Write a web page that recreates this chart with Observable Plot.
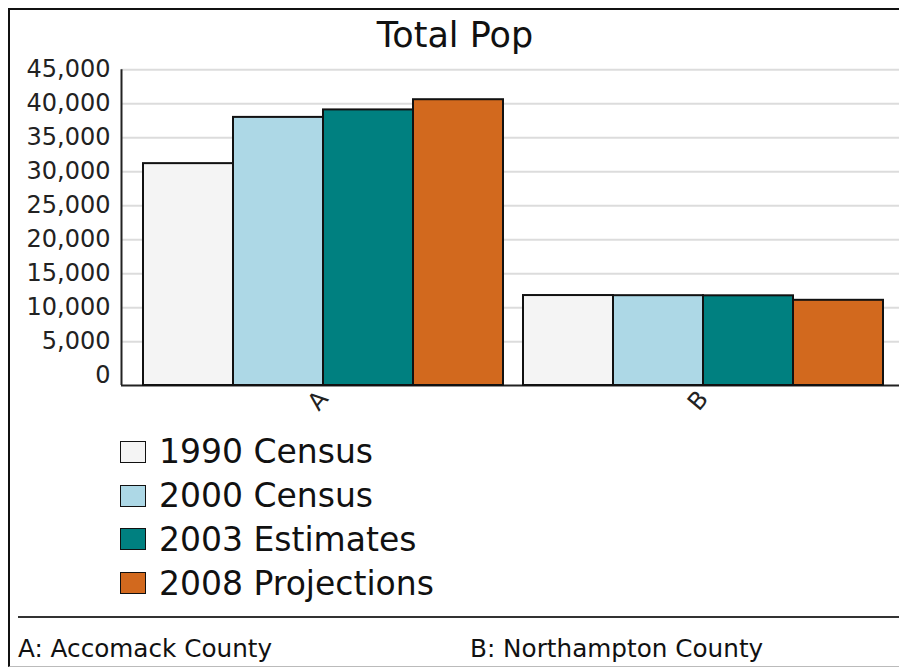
<!DOCTYPE html>
<html>
<head>
<meta charset="utf-8">
<script src="https://cdn.jsdelivr.net/npm/d3@7"></script>
<script src="https://cdn.jsdelivr.net/npm/@observablehq/plot@0.6"></script>
<style>
html,body{margin:0;padding:0;background:#fff;overflow:hidden;width:899px;height:667px;font-family:"DejaVu Sans",Verdana,sans-serif;color:#111}
#wrap{position:relative;width:899px;height:667px;overflow:hidden}
#frame{position:absolute;left:8px;top:8px;width:889px;height:656px;border-left:2px solid #111;border-top:2px solid #111;border-bottom:1px solid #bbb}
#title{position:absolute;left:0;width:910px;top:18.2px;text-align:center;font-size:35px;line-height:35px}
.layer{position:absolute;left:0;top:0}
#legend{position:absolute;left:120px;top:430px}
.row{display:flex;align-items:center;height:43.8px;font-size:33px;line-height:33px}
.sw{width:24px;height:20px;border:1.5px solid #111;margin-right:13px;flex:none}
#sep{position:absolute;left:18px;top:615.5px;width:881px;height:2px;background:#333}
.foot{position:absolute;top:637px;font-size:24.7px;line-height:24.7px;white-space:nowrap}
</style>
</head>
<body>
<div id="wrap">
<div id="frame"></div>
<div id="title">Total Pop</div>
<div id="bg" class="layer"></div>
<div id="fg" class="layer"></div>
<div id="legend"></div>
<div id="sep"></div>
<div id="footA" class="foot" style="left:18px"></div>
<div id="footB" class="foot" style="left:470px"></div>
</div>
<script>
// ---- data ----
const counties = ["A", "B"];
const countyNames = ["Accomack County", "Northampton County"];
const series = ["1990 Census", "2000 Census", "2003 Estimates", "2008 Projections"];
const colors = ["#f4f4f4", "#add8e6", "#008080", "#d2691e"];
const valuesA = [31200, 38000, 39100, 40600];
const valuesB = [11800, 11780, 11760, 11100];
const yTicks = [0, 5000, 10000, 15000, 20000, 25000, 30000, 35000, 40000, 45000];
const yMax = 45000;
const yBase = -1430;

const values = [valuesA, valuesB];
const rows = counties.flatMap((c, i) => series.map((s, j) => ({county: c, series: s, value: values[i][j]})));
const gridTicks = yTicks.filter(v => v > 0);

const W = 899, H = 420;
const common = {
  width: W, height: H,
  marginLeft: 121, marginRight: 0, marginTop: 69.3, marginBottom: H - 385
};

const bg = Plot.plot({
  ...common,
  style: {fontFamily: "DejaVu Sans, Verdana, sans-serif", fontSize: "24px", color: "#222", background: "transparent", overflow: "visible"},
  x: {domain: [0, 1], axis: null},
  y: {domain: [yBase, yMax], ticks: yTicks, tickFormat: d3.format(","), tickSize: 0, tickPadding: 11, label: null},
  marks: [
    Plot.ruleY(gridTicks, {stroke: "#dcdcdc", strokeWidth: 2}),
    Plot.ruleY([yBase], {stroke: "#222", strokeWidth: 2}),
    Plot.ruleX([0], {y1: yBase, y2: yMax, stroke: "#222", strokeWidth: 2})
  ]
});
document.getElementById("bg").append(bg);

const fg = Plot.plot({
  ...common,
  style: {fontFamily: "DejaVu Sans, Verdana, sans-serif", fontSize: "24px", color: "#222", background: "transparent", overflow: "visible"},
  x: {domain: series, padding: 0, axis: null},
  y: {domain: [yBase, yMax], axis: null},
  fx: {domain: counties, paddingInner: 20 / 380, paddingOuter: 0.05, align: 0.579, axis: "bottom", tickSize: 0, tickPadding: 9, tickRotate: -50, label: null},
  color: {domain: series, range: colors},
  marks: [
    Plot.barY(rows, {fx: "county", x: "series", y1: yBase, y2: "value", fill: "series", stroke: "#111", strokeWidth: 2})
  ]
});
document.getElementById("fg").append(fg);

// legend
const legend = document.getElementById("legend");
series.forEach((s, i) => {
  const row = document.createElement("div");
  row.className = "row";
  const sw = document.createElement("div");
  sw.className = "sw";
  sw.style.background = colors[i];
  const t = document.createElement("span");
  t.textContent = s;
  row.append(sw, t);
  legend.append(row);
});

document.getElementById("footA").textContent = counties[0] + ": " + countyNames[0];
document.getElementById("footB").textContent = counties[1] + ": " + countyNames[1];
</script>
</body>
</html>
